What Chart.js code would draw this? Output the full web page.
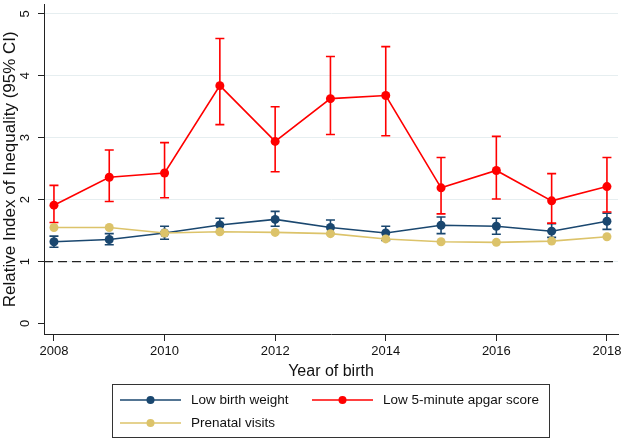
<!DOCTYPE html>
<html>
<head>
<meta charset="utf-8">
<script src="https://cdn.jsdelivr.net/npm/chart.js@4.4.0/dist/chart.umd.min.js"></script>
<style>
    body { margin: 0; background: #ffffff; }
    #grafico { display: block; }
</style>
</head>
<body>
<canvas id="grafico" width="625" height="441"></canvas>
<script>
// values
const years = [2008, 2009, 2010, 2011, 2012, 2013, 2014, 2015, 2016, 2017, 2018];

const birthWeight     = [1.32, 1.355, 1.46, 1.59, 1.68, 1.55, 1.46, 1.585, 1.57, 1.49, 1.65];
const birthWeightLow  = [1.23, 1.27, 1.36, 1.48, 1.57, 1.45, 1.34, 1.45, 1.44, 1.39, 1.52];
const birthWeightHigh = [1.41, 1.45, 1.57, 1.70, 1.81, 1.67, 1.57, 1.72, 1.70, 1.61, 1.78];

const apgar     = [1.91, 2.36, 2.43, 3.84, 2.94, 3.63, 3.68, 2.19, 2.47, 1.98, 2.21];
const apgarLow  = [1.63, 1.97, 2.03, 3.21, 2.45, 3.05, 3.03, 1.77, 2.01, 1.62, 1.80];
const apgarHigh = [2.23, 2.80, 2.92, 4.60, 3.50, 4.31, 4.47, 2.68, 3.02, 2.42, 2.68];

const prenatal = [1.55, 1.55, 1.46, 1.48, 1.47, 1.45, 1.365, 1.32, 1.31, 1.33, 1.40];

const xTicks = [2008, 2010, 2012, 2014, 2016, 2018];
const yTicks = [0, 1, 2, 3, 4, 5];
const refLine = 1;

function pontos(valores) {
    let lista = [];
    for (let i = 0; i < years.length; i++) {
        lista.push({ x: years[i], y: valores[i] });
    }
    return lista;
}

const fonte = 'Arial, "Liberation Sans", sans-serif';

// vertical CI bars with caps, drawn just under each series
const errorBars = {
    id: 'errorBars',
    beforeDatasetDraw(chart, args) {
        let ds = chart.data.datasets[args.index];
        if (!ds.ciLow) return;
        let ctx = chart.ctx;
        let xs = chart.scales.x;
        let ys = chart.scales.y;
        ctx.save();
        ctx.strokeStyle = ds.borderColor;
        ctx.lineWidth = 1.6;
        for (let i = 0; i < years.length; i++) {
            let x = xs.getPixelForValue(years[i]);
            let y1 = ys.getPixelForValue(ds.ciLow[i]);
            let y2 = ys.getPixelForValue(ds.ciHigh[i]);
            ctx.beginPath();
            ctx.moveTo(x, y1); ctx.lineTo(x, y2);
            ctx.moveTo(x - 4.5, y1); ctx.lineTo(x + 4.5, y1);
            ctx.moveTo(x - 4.5, y2); ctx.lineTo(x + 4.5, y2);
            ctx.stroke();
        }
        ctx.restore();
    }
};

// dashed line at RII = 1
const linhaRef = {
    id: 'linhaRef',
    beforeDatasetsDraw(chart) {
        let ctx = chart.ctx;
        let area = chart.chartArea;
        let y = chart.scales.y.getPixelForValue(refLine);
        ctx.save();
        ctx.strokeStyle = '#222222';
        ctx.lineWidth = 1.3;
        ctx.setLineDash([9, 5]);
        ctx.beginPath();
        ctx.moveTo(area.left, y);
        ctx.lineTo(area.right, y);
        ctx.stroke();
        ctx.restore();
    }
};

// boxed legend under the x axis title, two columns
const legendaBox = {
    id: 'legendaBox',
    afterDraw(chart) {
        let ctx = chart.ctx;
        ctx.save();
        ctx.strokeStyle = '#333333';
        ctx.lineWidth = 1;
        ctx.strokeRect(112.5, 384.5, 437, 53);
        ctx.font = '13.5px ' + fonte;
        ctx.textBaseline = 'middle';
        ctx.textAlign = 'left';
        let posicoes = [[120, 400], [312, 400], [120, 423]];
        chart.data.datasets.forEach(function (ds, i) {
            let x = posicoes[i][0];
            let y = posicoes[i][1];
            ctx.strokeStyle = ds.borderColor;
            ctx.lineWidth = 1.6;
            ctx.beginPath();
            ctx.moveTo(x, y); ctx.lineTo(x + 61, y);
            ctx.stroke();
            ctx.fillStyle = ds.borderColor;
            ctx.beginPath();
            ctx.arc(x + 30.5, y, 4, 0, Math.PI * 2);
            ctx.fill();
            ctx.fillStyle = '#111111';
            ctx.fillText(ds.label, x + 71, y + 0.5);
        });
        ctx.restore();
    }
};

let dados = {
    datasets: [{
        label: 'Low birth weight',
        data: pontos(birthWeight),
        ciLow: birthWeightLow,
        ciHigh: birthWeightHigh,
        borderColor: '#1a476f',
        backgroundColor: '#1a476f',
        order: 3
    }, {
        label: 'Low 5-minute apgar score',
        data: pontos(apgar),
        ciLow: apgarLow,
        ciHigh: apgarHigh,
        borderColor: '#ff0000',
        backgroundColor: '#ff0000',
        order: 2
    }, {
        label: 'Prenatal visits',
        data: pontos(prenatal),
        borderColor: '#dcc36a',
        backgroundColor: '#dcc36a',
        order: 1
    }]
};

dados.datasets.forEach(function (ds) {
    ds.borderWidth = 1.6;
    ds.pointRadius = 4.5;
    ds.pointBorderWidth = 0;
    ds.pointBackgroundColor = ds.borderColor;
    ds.tension = 0;
});

function semPadding(scale) {
    scale.paddingTop = 0;
    scale.paddingBottom = 0;
    scale.paddingLeft = 0;
    scale.paddingRight = 0;
}

let config = {
    type: 'line',
    data: dados,
    options: {
        responsive: false,
        animation: false,
        events: [],
        layout: {
            padding: { left: 0, right: 7, top: 3, bottom: 57 }
        },
        plugins: {
            legend: { display: false },
            tooltip: { enabled: false }
        },
        scales: {
            x: {
                type: 'linear',
                min: 2007.82,
                max: 2018.2,
                afterBuildTicks: function (scale) {
                    scale.ticks = xTicks.map(v => ({ value: v }));
                },
                afterFit: function (scale) {
                    scale.height = 50;
                    semPadding(scale);
                },
                grid: {
                    display: true,
                    drawOnChartArea: false,
                    drawTicks: true,
                    tickLength: 7,
                    tickColor: '#222222'
                },
                border: { display: true, color: '#222222', width: 1 },
                ticks: {
                    color: '#111111',
                    padding: 3,
                    maxRotation: 0,
                    font: { family: fonte, size: 13 },
                    callback: v => String(v)
                },
                title: {
                    display: true,
                    text: 'Year of birth',
                    color: '#111111',
                    font: { family: fonte, size: 16 },
                    padding: { top: 0, bottom: 3 }
                }
            },
            y: {
                min: -0.17,
                max: 5.15,
                afterBuildTicks: function (scale) {
                    scale.ticks = yTicks.map(v => ({ value: v }));
                },
                afterFit: function (scale) {
                    scale.width = 44;
                    semPadding(scale);
                },
                grid: {
                    display: true,
                    drawTicks: true,
                    tickLength: 6,
                    tickColor: '#222222',
                    color: ctx => (ctx.tick && ctx.tick.value === 0) ? 'rgba(0,0,0,0)' : '#e6eef0'
                },
                border: { display: true, color: '#222222', width: 1 },
                ticks: {
                    color: '#111111',
                    padding: 9,
                    minRotation: 90,
                    maxRotation: 90,
                    crossAlign: 'center',
                    font: { family: fonte, size: 13 }
                },
                title: {
                    display: true,
                    text: 'Relative Index of Inequality (95% CI)',
                    color: '#111111',
                    font: { family: fonte, size: 17 },
                    padding: { top: 0, bottom: 0 }
                }
            }
        }
    },
    plugins: [linhaRef, errorBars, legendaBox]
};

let meuGrafico = new Chart(document.getElementById('grafico'), config);
</script>
</body>
</html>
